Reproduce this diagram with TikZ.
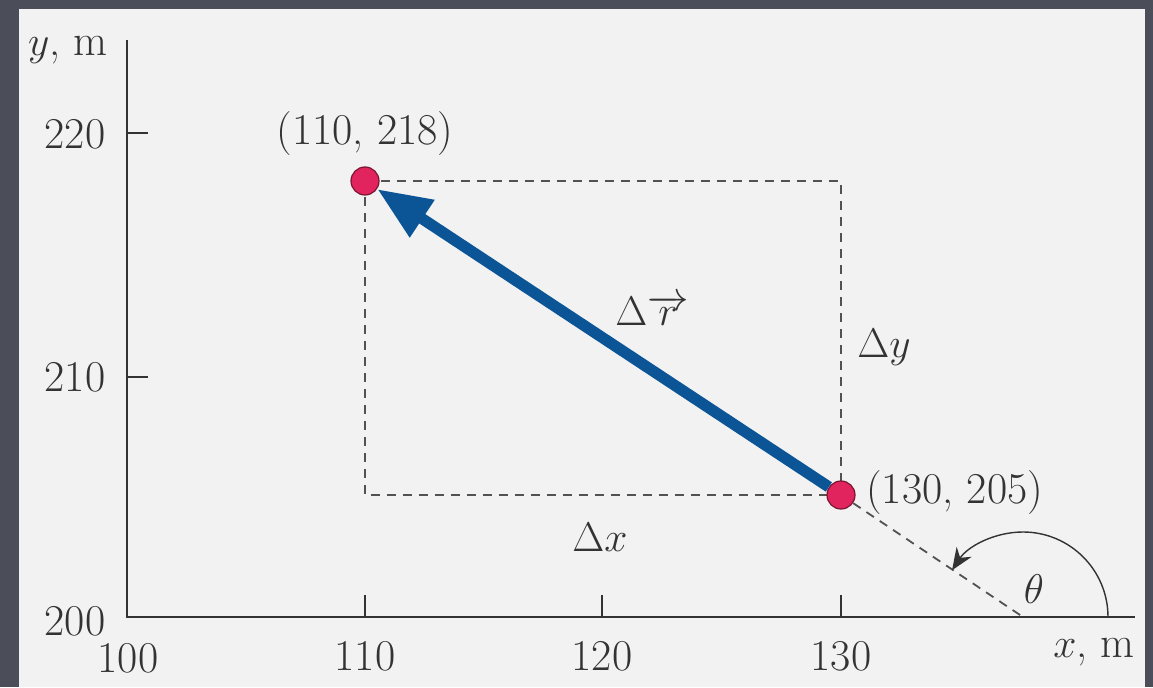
\documentclass[tikz,border=0pt]{standalone}
\usetikzlibrary{arrows.meta,calc}
\definecolor{bgdark}{HTML}{4B4E58}
\definecolor{panel}{HTML}{F2F2F2}
\definecolor{vecblue}{HTML}{0B5597}
\definecolor{dotred}{HTML}{E2245E}
\definecolor{dotedge}{HTML}{7A1530}
\definecolor{ink}{HTML}{333333}
\begin{document}
\begin{tikzpicture}[x=0.5pt,y=0.5pt,
  axis/.style={draw=ink,line width=1.3pt},
  tick/.style={draw=ink,line width=1pt},
  dashline/.style={draw=ink!85,line width=0.9pt,dash pattern=on 4.5pt off 3.5pt},
  dot/.style={circle,fill=dotred,draw=dotedge,line width=0.6pt,minimum size=14pt,inner sep=0pt},
  bluevec/.style={draw=vecblue,line width=5.6pt,-{Triangle[length=27pt,width=21pt]}},
  lbl/.style={text=ink,inner sep=0pt,font=\fontsize{22}{26}\selectfont},
  anglearc/.style={draw=ink,line width=0.7pt,-{Stealth[length=11pt,width=9pt]}}]
\useasboundingbox (0,0) rectangle (1153,687);
\fill[bgdark] (0,0) rectangle (1153,687);
\fill[panel] (19,0) rectangle (1145,678);
% axes
\coordinate (O) at (127,70);
\coordinate (ytop) at (127,647);
\coordinate (xend) at (1135,70);
\draw[axis] (ytop) -- (O) -- (xend);
% ticks
\coordinate (t220) at (127,554); \coordinate (t220e) at (148,554);
\coordinate (t210) at (127,310); \coordinate (t210e) at (148,310);
\draw[tick] (t220) -- (t220e);
\draw[tick] (t210) -- (t210e);
\coordinate (t110) at (365,70); \coordinate (t110e) at (365,92);
\coordinate (t120) at (602,70); \coordinate (t120e) at (602,92);
\coordinate (t130) at (841,70); \coordinate (t130e) at (841,92);
\draw[tick] (t110) -- (t110e);
\draw[tick] (t120) -- (t120e);
\draw[tick] (t130) -- (t130e);
% tick labels
\node[lbl] (l220) at (75,553) {220};
\node[lbl] (l210) at (75,310) {210};
\node[lbl] (l200) at (75,66) {200};
\node[lbl] (l100) at (128,29) {100};
\node[lbl] (l110) at (365,31) {110};
\node[lbl] (l120) at (602,31) {120};
\node[lbl] (l130) at (841,31) {130};
\node[lbl] (ylab) at (68,637) {$y$, m};
\node[lbl] (xlab) at (1094,35) {$x$, m};
% points and dashed box
\coordinate (P1) at (365,506);
\coordinate (P2) at (841,192);
\coordinate (C1) at (841,506);
\coordinate (C2) at (365,192);
\coordinate (X0) at (1023,70);
\draw[dashline] (P1) -- (C1) -- (P2);
\draw[dashline] (P1) -- (C2) -- (P2);
\node[dot] (p1) at (P1) {};
\node[dot] (p2) at (P2) {};
\draw[dashline] (p2) -- (X0);
\draw[bluevec] (p2) -- (p1);
% angle arc
\coordinate (A0) at ($(X0)+(85,0)$);
\draw[anglearc] (A0) arc[start angle=0,end angle=146.6,radius=85];
% labels
\node[lbl] (lp1) at (365,553) {(110, 218)};
\node[lbl,anchor=west] (lp2) at (866,194) {(130, 205)};
\node[lbl,anchor=base] (ldr) at (652,361) {$\Delta\overrightarrow{r}$};
\node[lbl] (ldy) at (884,340) {$\Delta y$};
\node[lbl] (ldx) at (600,150) {$\Delta x$};
\node[lbl] (lth) at (1034,98) {$\theta$};
\end{tikzpicture}
\end{document}
